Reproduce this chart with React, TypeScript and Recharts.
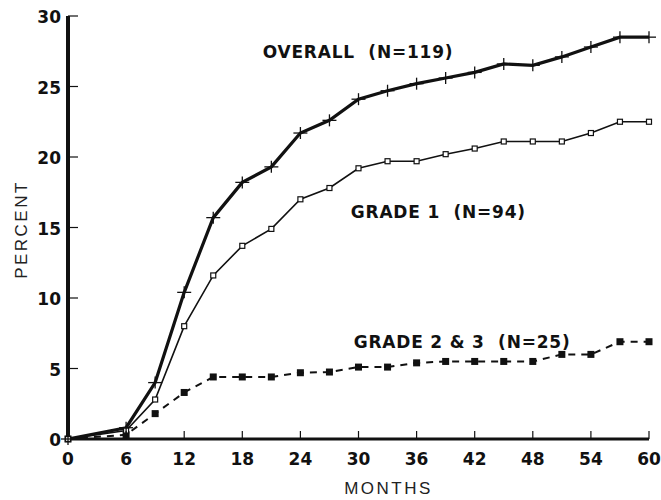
import React from "react";
import { LineChart, Line, XAxis, YAxis, ReferenceDot } from "recharts";

const months = [0, 6, 9, 12, 15, 18, 21, 24, 27, 30, 33, 36, 39, 42, 45, 48, 51, 54, 57, 60];
const overall = [0, 0.8, 4.0, 10.4, 15.7, 18.2, 19.3, 21.7, 22.6, 24.1, 24.7, 25.2, 25.6, 26.0, 26.6, 26.5, 27.1, 27.8, 28.5, 28.5];
const grade1 = [0, 0.6, 2.8, 8.0, 11.6, 13.7, 14.9, 17.0, 17.8, 19.2, 19.7, 19.7, 20.2, 20.6, 21.1, 21.1, 21.1, 21.7, 22.5, 22.5];
const grade23 = [0, 0.3, 1.8, 3.3, 4.4, 4.4, 4.4, 4.7, 4.75, 5.1, 5.1, 5.4, 5.5, 5.5, 5.5, 5.5, 6.0, 6.0, 6.9, 6.9];

const xTicks = [0, 6, 12, 18, 24, 30, 36, 42, 48, 54, 60];
const yTicks = [0, 5, 10, 15, 20, 25, 30];

const seriesLabels = [
  { text: "OVERALL  (N=119)", month: 20.1, pct: 27.0 },
  { text: "GRADE 1  (N=94)", month: 29.2, pct: 15.7 },
  { text: "GRADE 2 & 3  (N=25)", month: 29.5, pct: 6.45 },
];

const data = months.map((m, i) => ({
  month: m,
  overall: overall[i],
  grade1: grade1[i],
  grade23: grade23[i],
}));

const INK = "#111";
const BOLD = "'DejaVu Sans', sans-serif";
const LIGHT = "'Liberation Sans', Arial, sans-serif";

const XTick = (props: any) => {
  const { x, y, payload } = props;
  return (
    <g>
      {payload.value !== 0 && <line x1={x} y1={y} x2={x} y2={y - 8} stroke={INK} strokeWidth={1.2} />}
      <text x={x} y={y + 26} textAnchor="middle" fontFamily={BOLD} fontWeight="bold" fontSize={17} fill={INK}>
        {payload.value}
      </text>
    </g>
  );
};

const YTick = (props: any) => {
  const { x, y, payload } = props;
  return (
    <g>
      {payload.value !== 0 && <line x1={x} y1={y} x2={x + 10} y2={y} stroke={INK} strokeWidth={1.2} />}
      <text x={x - 7} y={y + 7} textAnchor="end" fontFamily={BOLD} fontWeight="bold" fontSize={17} fill={INK}>
        {payload.value}
      </text>
    </g>
  );
};

const PlusDot = (props: any) => {
  const { cx, cy } = props;
  if (cx == null || cy == null) return null;
  return (
    <g>
      <line x1={cx - 7} y1={cy} x2={cx + 7} y2={cy} stroke={INK} strokeWidth={1.3} />
      <line x1={cx} y1={cy - 6} x2={cx} y2={cy + 6} stroke={INK} strokeWidth={1.3} />
    </g>
  );
};

const OpenSquare = (props: any) => {
  const { cx, cy } = props;
  if (cx == null || cy == null) return null;
  return <rect x={cx - 2.5} y={cy - 2.5} width={5} height={5} fill="#fff" stroke={INK} strokeWidth={1.2} />;
};

const FilledSquare = (props: any) => {
  const { cx, cy } = props;
  if (cx == null || cy == null) return null;
  return <rect x={cx - 3.5} y={cy - 3.5} width={7} height={7} fill={INK} stroke="none" />;
};

export default function App() {
  return (
    <div style={{ position: "absolute", left: 0, top: 0, background: "#fff" }}>
      <LineChart width={661} height={500} data={data} margin={{ top: 16, right: 12, bottom: 16, left: 0 }}>
        <XAxis
          dataKey="month"
          type="number"
          domain={[0, 60]}
          ticks={xTicks}
          interval={0}
          tickSize={0}
          tickMargin={0}
          tick={<XTick />}
          height={45}
          axisLine={{ stroke: INK, strokeWidth: 3 }}
          label={{
            content: (p: any) => {
              const vb = p.viewBox || {};
              return (
                <text
                  x={vb.x + vb.width / 2 + 30}
                  y={vb.y + 55}
                  textAnchor="middle"
                  fontFamily={LIGHT}
                  fontSize={17}
                  letterSpacing={2.5}
                  fill="#222"
                >
                  MONTHS
                </text>
              );
            },
          }}
        />
        <YAxis
          type="number"
          domain={[0, 30]}
          ticks={yTicks}
          interval={0}
          width={68}
          tickSize={0}
          tickMargin={0}
          tick={<YTick />}
          axisLine={{ stroke: INK, strokeWidth: 4 }}
          label={{
            content: (p: any) => {
              const vb = p.viewBox || {};
              const cx = 21;
              const cy = vb.y + vb.height / 2 + 2;
              return (
                <text
                  x={cx}
                  y={cy}
                  transform={`rotate(-90 ${cx} ${cy})`}
                  textAnchor="middle"
                  dominantBaseline="central"
                  fontFamily={LIGHT}
                  fontSize={17}
                  letterSpacing={2.5}
                  fill="#222"
                >
                  PERCENT
                </text>
              );
            },
          }}
        />
        <Line
          dataKey="grade23"
          stroke={INK}
          strokeWidth={2}
          strokeDasharray="7 6"
          dot={<FilledSquare />}
          activeDot={false}
          isAnimationActive={false}
          type="linear"
        />
        <Line
          dataKey="grade1"
          stroke={INK}
          strokeWidth={1.6}
          dot={<OpenSquare />}
          activeDot={false}
          isAnimationActive={false}
          type="linear"
        />
        <Line
          dataKey="overall"
          stroke={INK}
          strokeWidth={3.2}
          dot={<PlusDot />}
          activeDot={false}
          isAnimationActive={false}
          type="linear"
        />
        {seriesLabels.map((s) => (
          <ReferenceDot
            key={s.text}
            x={s.month}
            y={s.pct}
            r={0}
            ifOverflow="visible"
            shape={(p: any) => (
              <text
                x={p.cx}
                y={p.cy}
                fontFamily={BOLD}
                fontWeight="bold"
                fontSize={17}
                letterSpacing={0.8}
                fill={INK}
                style={{ whiteSpace: "pre" }}
              >
                {s.text}
              </text>
            )}
          />
        ))}
      </LineChart>
    </div>
  );
}
